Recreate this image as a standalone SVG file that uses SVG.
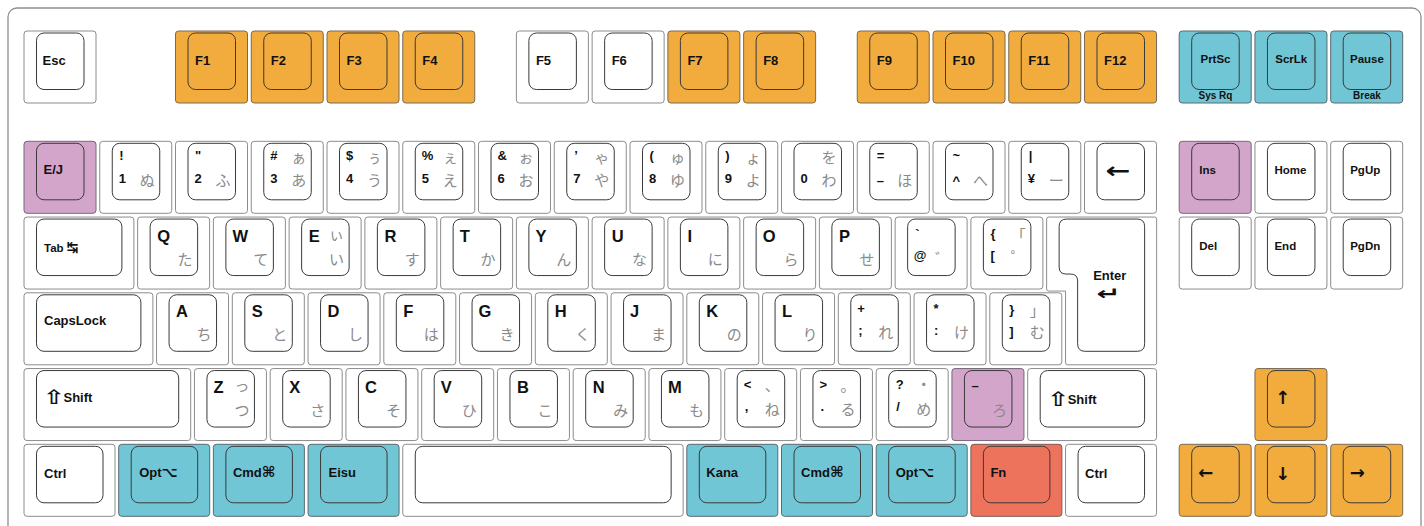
<svg xmlns="http://www.w3.org/2000/svg" width="1424" height="526" viewBox="0 0 1424 526">
<style>
.frame{fill:#fff;stroke:#8f8f8f;stroke-width:1.3}
.ko{stroke:#8c8c8c;stroke-width:1}
.w{fill:#fff}
.o{fill:#f2ac3e;stroke:#7a6a50}
.t{fill:#71c6d6;stroke:#5a6a70}
.p{fill:#d3a5cb;stroke:#76687a}
.r{fill:#ee735d;stroke:#7a5a55}
.ki{fill:none;stroke:#3a3a3a;stroke-width:1}
text{font-family:"Liberation Sans",Arial,sans-serif;font-weight:bold;fill:#111}
.lg{font-size:13px}
.lt{font-size:16.5px}
.sm{font-size:11.5px}
.xs{font-size:10px}
.mid{text-anchor:middle}
.kn{font-family:"Noto Sans CJK JP",sans-serif;font-weight:normal;font-size:15px;fill:#8a8a8a;text-anchor:end;dominant-baseline:central}
.gl{font-family:"DejaVu Sans",sans-serif;font-weight:bold}
.ar{font-family:"DejaVu Sans",sans-serif;font-weight:bold;font-size:18px;dominant-baseline:central}
</style>
<rect class="frame" x="8" y="8" width="1413" height="540" rx="9"/>
<g id="connectors"/>

<!-- Function row -->
<g id="key-esc" transform="translate(24 31)"><rect class="ko w" width="72" height="72" rx="3"/><rect class="ki" x="12.5" y="2" width="47.5" height="56.5" rx="7.5"/><text class="lg" x="18.5" y="33.5">Esc</text></g>
<g id="key-f1" transform="translate(175.5 31)"><rect class="ko o" width="72" height="72" rx="3"/><rect class="ki" x="12.5" y="2" width="47.5" height="56.5" rx="7.5"/><text class="lg" x="19.5" y="33.5">F1</text></g>
<g id="key-f2" transform="translate(251.25 31)"><rect class="ko o" width="72" height="72" rx="3"/><rect class="ki" x="12.5" y="2" width="47.5" height="56.5" rx="7.5"/><text class="lg" x="19.5" y="33.5">F2</text></g>
<g id="key-f3" transform="translate(327 31)"><rect class="ko o" width="72" height="72" rx="3"/><rect class="ki" x="12.5" y="2" width="47.5" height="56.5" rx="7.5"/><text class="lg" x="19.5" y="33.5">F3</text></g>
<g id="key-f4" transform="translate(402.75 31)"><rect class="ko o" width="72" height="72" rx="3"/><rect class="ki" x="12.5" y="2" width="47.5" height="56.5" rx="7.5"/><text class="lg" x="19.5" y="33.5">F4</text></g>
<g id="key-f5" transform="translate(516.38 31)"><rect class="ko w" width="72" height="72" rx="3"/><rect class="ki" x="12.5" y="2" width="47.5" height="56.5" rx="7.5"/><text class="lg" x="19.5" y="33.5">F5</text></g>
<g id="key-f6" transform="translate(592.13 31)"><rect class="ko w" width="72" height="72" rx="3"/><rect class="ki" x="12.5" y="2" width="47.5" height="56.5" rx="7.5"/><text class="lg" x="19.5" y="33.5">F6</text></g>
<g id="key-f7" transform="translate(667.88 31)"><rect class="ko o" width="72" height="72" rx="3"/><rect class="ki" x="12.5" y="2" width="47.5" height="56.5" rx="7.5"/><text class="lg" x="19.5" y="33.5">F7</text></g>
<g id="key-f8" transform="translate(743.63 31)"><rect class="ko o" width="72" height="72" rx="3"/><rect class="ki" x="12.5" y="2" width="47.5" height="56.5" rx="7.5"/><text class="lg" x="19.5" y="33.5">F8</text></g>
<g id="key-f9" transform="translate(857.25 31)"><rect class="ko o" width="72" height="72" rx="3"/><rect class="ki" x="12.5" y="2" width="47.5" height="56.5" rx="7.5"/><text class="lg" x="19.5" y="33.5">F9</text></g>
<g id="key-f10" transform="translate(933 31)"><rect class="ko o" width="72" height="72" rx="3"/><rect class="ki" x="12.5" y="2" width="47.5" height="56.5" rx="7.5"/><text class="lg" x="19.5" y="33.5">F10</text></g>
<g id="key-f11" transform="translate(1008.75 31)"><rect class="ko o" width="72" height="72" rx="3"/><rect class="ki" x="12.5" y="2" width="47.5" height="56.5" rx="7.5"/><text class="lg" x="19.5" y="33.5">F11</text></g>
<g id="key-f12" transform="translate(1084.5 31)"><rect class="ko o" width="72" height="72" rx="3"/><rect class="ki" x="12.5" y="2" width="47.5" height="56.5" rx="7.5"/><text class="lg" x="19.5" y="33.5">F12</text></g>
<g id="key-prtsc" transform="translate(1179.19 31)"><rect class="ko t" width="72" height="72" rx="3"/><rect class="ki" x="12.5" y="2" width="47.5" height="56.5" rx="7.5"/><text class="sm mid" x="36.3" y="32">PrtSc</text><text class="xs mid" x="36.3" y="68">Sys Rq</text></g>
<g id="key-scrlk" transform="translate(1254.94 31)"><rect class="ko t" width="72" height="72" rx="3"/><rect class="ki" x="12.5" y="2" width="47.5" height="56.5" rx="7.5"/><text class="sm mid" x="36.3" y="32">ScrLk</text></g>
<g id="key-pause" transform="translate(1330.69 31)"><rect class="ko t" width="72" height="72" rx="3"/><rect class="ki" x="12.5" y="2" width="47.5" height="56.5" rx="7.5"/><text class="sm mid" x="36.3" y="32">Pause</text><text class="xs mid" x="36.3" y="68">Break</text></g>

<!-- Number row -->
<g id="key-ej" transform="translate(24 141.3)"><rect class="ko p" width="72" height="72" rx="3"/><rect class="ki" x="12.5" y="2" width="47.5" height="56.5" rx="7.5"/><text class="lg" x="19.5" y="32.5">E/J</text></g>
<g id="key-1" transform="translate(99.75 141.3)"><rect class="ko w" width="72" height="72" rx="3"/><rect class="ki" x="12.5" y="2" width="47.5" height="56.5" rx="7.5"/><text class="lg" x="19.5" y="19">!</text><text class="lg" x="19" y="42">1</text><text class="kn" x="55" y="38.5">ぬ</text></g>
<g id="key-2" transform="translate(175.5 141.3)"><rect class="ko w" width="72" height="72" rx="3"/><rect class="ki" x="12.5" y="2" width="47.5" height="56.5" rx="7.5"/><text class="lg" x="19.5" y="19">"</text><text class="lg" x="19" y="42">2</text><text class="kn" x="55" y="38.5">ふ</text></g>
<g id="key-3" transform="translate(251.25 141.3)"><rect class="ko w" width="72" height="72" rx="3"/><rect class="ki" x="12.5" y="2" width="47.5" height="56.5" rx="7.5"/><text class="lg" x="19" y="19">#</text><text class="lg" x="19" y="42">3</text><text class="kn" x="55" y="15">ぁ</text><text class="kn" x="55" y="38.5">あ</text></g>
<g id="key-4" transform="translate(327 141.3)"><rect class="ko w" width="72" height="72" rx="3"/><rect class="ki" x="12.5" y="2" width="47.5" height="56.5" rx="7.5"/><text class="lg" x="19" y="19">$</text><text class="lg" x="19" y="42">4</text><text class="kn" x="55" y="15">ぅ</text><text class="kn" x="55" y="38.5">う</text></g>
<g id="key-5" transform="translate(402.75 141.3)"><rect class="ko w" width="72" height="72" rx="3"/><rect class="ki" x="12.5" y="2" width="47.5" height="56.5" rx="7.5"/><text class="lg" x="19" y="19">%</text><text class="lg" x="19" y="42">5</text><text class="kn" x="55" y="15">ぇ</text><text class="kn" x="55" y="38.5">え</text></g>
<g id="key-6" transform="translate(478.5 141.3)"><rect class="ko w" width="72" height="72" rx="3"/><rect class="ki" x="12.5" y="2" width="47.5" height="56.5" rx="7.5"/><text class="lg" x="19" y="19">&amp;</text><text class="lg" x="19" y="42">6</text><text class="kn" x="55" y="15">ぉ</text><text class="kn" x="55" y="38.5">お</text></g>
<g id="key-7" transform="translate(554.25 141.3)"><rect class="ko w" width="72" height="72" rx="3"/><rect class="ki" x="12.5" y="2" width="47.5" height="56.5" rx="7.5"/><text class="lg" x="20" y="19">’</text><text class="lg" x="19" y="42">7</text><text class="kn" x="55" y="15">ゃ</text><text class="kn" x="55" y="38.5">や</text></g>
<g id="key-8" transform="translate(630 141.3)"><rect class="ko w" width="72" height="72" rx="3"/><rect class="ki" x="12.5" y="2" width="47.5" height="56.5" rx="7.5"/><text class="lg" x="19.5" y="19">(</text><text class="lg" x="19" y="42">8</text><text class="kn" x="55" y="15">ゅ</text><text class="kn" x="55" y="38.5">ゆ</text></g>
<g id="key-9" transform="translate(705.75 141.3)"><rect class="ko w" width="72" height="72" rx="3"/><rect class="ki" x="12.5" y="2" width="47.5" height="56.5" rx="7.5"/><text class="lg" x="19.5" y="19">)</text><text class="lg" x="19" y="42">9</text><text class="kn" x="55" y="15">ょ</text><text class="kn" x="55" y="38.5">よ</text></g>
<g id="key-0" transform="translate(781.5 141.3)"><rect class="ko w" width="72" height="72" rx="3"/><rect class="ki" x="12.5" y="2" width="47.5" height="56.5" rx="7.5"/><text class="lg" x="19" y="42">0</text><text class="kn" x="55" y="15">を</text><text class="kn" x="55" y="38.5">わ</text></g>
<g id="key-minus" transform="translate(857.25 141.3)"><rect class="ko w" width="72" height="72" rx="3"/><rect class="ki" x="12.5" y="2" width="47.5" height="56.5" rx="7.5"/><text class="lg" x="19.5" y="19">=</text><text class="lg" x="19.5" y="44">–</text><text class="kn" x="55" y="38.5">ほ</text></g>
<g id="key-caret" transform="translate(933 141.3)"><rect class="ko w" width="72" height="72" rx="3"/><rect class="ki" x="12.5" y="2" width="47.5" height="56.5" rx="7.5"/><text class="lg" x="19.5" y="19">~</text><text class="lg" x="19.5" y="44">^</text><text class="kn" x="55" y="38.5">へ</text></g>
<g id="key-yen" transform="translate(1008.75 141.3)"><rect class="ko w" width="72" height="72" rx="3"/><rect class="ki" x="12.5" y="2" width="47.5" height="56.5" rx="7.5"/><text class="lg" x="20" y="19">|</text><text class="lg" x="19" y="42">¥</text><text class="kn" x="55" y="38.5">ー</text></g>
<g id="key-backspace" transform="translate(1084.5 141.3)"><rect class="ko w" width="72" height="72" rx="3"/><rect class="ki" x="12.5" y="2" width="47.5" height="56.5" rx="7.5"/><text class="gl mid" x="33.5" y="29.5" font-size="22" dominant-baseline="central" transform="translate(33.5 0) scale(1.35 1) translate(-33.5 0)">←</text></g>
<g id="key-ins" transform="translate(1179.19 141.3)"><rect class="ko p" width="72" height="72" rx="3"/><rect class="ki" x="12.5" y="2" width="47.5" height="56.5" rx="7.5"/><text class="sm" x="20" y="33">Ins</text></g>
<g id="key-home" transform="translate(1254.94 141.3)"><rect class="ko w" width="72" height="72" rx="3"/><rect class="ki" x="12.5" y="2" width="47.5" height="56.5" rx="7.5"/><text class="sm" x="19.5" y="33">Home</text></g>
<g id="key-pgup" transform="translate(1330.69 141.3)"><rect class="ko w" width="72" height="72" rx="3"/><rect class="ki" x="12.5" y="2" width="47.5" height="56.5" rx="7.5"/><text class="sm" x="19.5" y="33">PgUp</text></g>

<!-- Tab row -->
<g id="key-tab" transform="translate(24 217.05)"><rect class="ko w" width="109.9" height="72" rx="3"/><rect class="ki" x="12.5" y="2" width="85.4" height="56.5" rx="7.5"/><text class="sm" x="20" y="34.5">Tab</text><text class="gl" x="42.5" y="29.5" font-size="14" dominant-baseline="central">↹</text></g>
<g id="key-q" transform="translate(137.63 217.05)"><rect class="ko w" width="72" height="72" rx="3"/><rect class="ki" x="12.5" y="2" width="47.5" height="56.5" rx="7.5"/><text class="lt" x="19.5" y="24.7">Q</text><text class="kn" x="55" y="41">た</text></g>
<g id="key-w" transform="translate(213.38 217.05)"><rect class="ko w" width="72" height="72" rx="3"/><rect class="ki" x="12.5" y="2" width="47.5" height="56.5" rx="7.5"/><text class="lt" x="19" y="24.7">W</text><text class="kn" x="55" y="41">て</text></g>
<g id="key-e" transform="translate(289.13 217.05)"><rect class="ko w" width="72" height="72" rx="3"/><rect class="ki" x="12.5" y="2" width="47.5" height="56.5" rx="7.5"/><text class="lt" x="19.5" y="24.7">E</text><text class="kn" x="55" y="16">ぃ</text><text class="kn" x="55" y="41">い</text></g>
<g id="key-r" transform="translate(364.88 217.05)"><rect class="ko w" width="72" height="72" rx="3"/><rect class="ki" x="12.5" y="2" width="47.5" height="56.5" rx="7.5"/><text class="lt" x="19.5" y="24.7">R</text><text class="kn" x="55" y="41">す</text></g>
<g id="key-t" transform="translate(440.63 217.05)"><rect class="ko w" width="72" height="72" rx="3"/><rect class="ki" x="12.5" y="2" width="47.5" height="56.5" rx="7.5"/><text class="lt" x="19" y="24.7">T</text><text class="kn" x="55" y="41">か</text></g>
<g id="key-y" transform="translate(516.38 217.05)"><rect class="ko w" width="72" height="72" rx="3"/><rect class="ki" x="12.5" y="2" width="47.5" height="56.5" rx="7.5"/><text class="lt" x="19" y="24.7">Y</text><text class="kn" x="55" y="41">ん</text></g>
<g id="key-u" transform="translate(592.13 217.05)"><rect class="ko w" width="72" height="72" rx="3"/><rect class="ki" x="12.5" y="2" width="47.5" height="56.5" rx="7.5"/><text class="lt" x="19.5" y="24.7">U</text><text class="kn" x="55" y="41">な</text></g>
<g id="key-i" transform="translate(667.88 217.05)"><rect class="ko w" width="72" height="72" rx="3"/><rect class="ki" x="12.5" y="2" width="47.5" height="56.5" rx="7.5"/><text class="lt" x="19.5" y="24.7">I</text><text class="kn" x="55" y="41">に</text></g>
<g id="key-o" transform="translate(743.63 217.05)"><rect class="ko w" width="72" height="72" rx="3"/><rect class="ki" x="12.5" y="2" width="47.5" height="56.5" rx="7.5"/><text class="lt" x="19" y="24.7">O</text><text class="kn" x="55" y="41">ら</text></g>
<g id="key-p" transform="translate(819.38 217.05)"><rect class="ko w" width="72" height="72" rx="3"/><rect class="ki" x="12.5" y="2" width="47.5" height="56.5" rx="7.5"/><text class="lt" x="19.5" y="24.7">P</text><text class="kn" x="55" y="41">せ</text></g>
<g id="key-at" transform="translate(895.13 217.05)"><rect class="ko w" width="72" height="72" rx="3"/><rect class="ki" x="12.5" y="2" width="47.5" height="56.5" rx="7.5"/><text class="lg" x="20" y="22">`</text><text class="lg" x="18.5" y="43">@</text><text class="kn" x="55" y="40">゛</text></g>
<g id="key-lbracket" transform="translate(970.88 217.05)"><rect class="ko w" width="72" height="72" rx="3"/><rect class="ki" x="12.5" y="2" width="47.5" height="56.5" rx="7.5"/><text class="lg" x="19.5" y="21">{</text><text class="lg" x="19.5" y="43">[</text><text class="kn" x="55" y="17">「</text><text class="kn" x="55" y="39">゜</text></g>
<g id="key-enter" transform="translate(1046.63 217.05)"><path class="ko w" d="M2,0 H108 Q110,0 110,2 V145.75 Q110,147.75 108,147.75 H20.93 Q18.93,147.75 18.93,145.75 V74 H2 Q0,74 0,72 V2 Q0,0 2,0 Z"/><path class="ki" d="M20,2 H90.5 Q98,2 98,9.5 V126.75 Q98,134.25 90.5,134.25 H38.5 Q31,134.25 31,126.75 V64 Q31,57 24,57 H19.5 Q12.5,57 12.5,50 V9.5 Q12.5,2 20,2 Z"/><text class="lg" x="46.5" y="63">Enter</text><text class="gl mid" x="62" y="77" font-size="18" dominant-baseline="central" transform="translate(62 0) scale(1.6 1) translate(-62 0)">↵</text></g>
<g id="key-del" transform="translate(1179.19 217.05)"><rect class="ko w" width="72" height="72" rx="3"/><rect class="ki" x="12.5" y="2" width="47.5" height="56.5" rx="7.5"/><text class="sm" x="20" y="33">Del</text></g>
<g id="key-end" transform="translate(1254.94 217.05)"><rect class="ko w" width="72" height="72" rx="3"/><rect class="ki" x="12.5" y="2" width="47.5" height="56.5" rx="7.5"/><text class="sm" x="19.5" y="33">End</text></g>
<g id="key-pgdn" transform="translate(1330.69 217.05)"><rect class="ko w" width="72" height="72" rx="3"/><rect class="ki" x="12.5" y="2" width="47.5" height="56.5" rx="7.5"/><text class="sm" x="19.5" y="33">PgDn</text></g>

<!-- Caps row -->
<g id="key-capslock" transform="translate(24 292.8)"><rect class="ko w" width="128.9" height="72" rx="3"/><rect class="ki" x="12.5" y="2" width="104.4" height="56.5" rx="7.5"/><text class="lg" x="20" y="32.5">CapsLock</text></g>
<g id="key-a" transform="translate(156.56 292.8)"><rect class="ko w" width="72" height="72" rx="3"/><rect class="ki" x="12.5" y="2" width="47.5" height="56.5" rx="7.5"/><text class="lt" x="19.5" y="24">A</text><text class="kn" x="55" y="40.5">ち</text></g>
<g id="key-s" transform="translate(232.31 292.8)"><rect class="ko w" width="72" height="72" rx="3"/><rect class="ki" x="12.5" y="2" width="47.5" height="56.5" rx="7.5"/><text class="lt" x="19.5" y="24">S</text><text class="kn" x="55" y="40.5">と</text></g>
<g id="key-d" transform="translate(308.06 292.8)"><rect class="ko w" width="72" height="72" rx="3"/><rect class="ki" x="12.5" y="2" width="47.5" height="56.5" rx="7.5"/><text class="lt" x="19.5" y="24">D</text><text class="kn" x="55" y="40.5">し</text></g>
<g id="key-f" transform="translate(383.81 292.8)"><rect class="ko w" width="72" height="72" rx="3"/><rect class="ki" x="12.5" y="2" width="47.5" height="56.5" rx="7.5"/><text class="lt" x="19.5" y="24">F</text><text class="kn" x="55" y="40.5">は</text></g>
<g id="key-g" transform="translate(459.56 292.8)"><rect class="ko w" width="72" height="72" rx="3"/><rect class="ki" x="12.5" y="2" width="47.5" height="56.5" rx="7.5"/><text class="lt" x="19" y="24">G</text><text class="kn" x="55" y="40.5">き</text></g>
<g id="key-h" transform="translate(535.31 292.8)"><rect class="ko w" width="72" height="72" rx="3"/><rect class="ki" x="12.5" y="2" width="47.5" height="56.5" rx="7.5"/><text class="lt" x="19.5" y="24">H</text><text class="kn" x="55" y="40.5">く</text></g>
<g id="key-j" transform="translate(611.06 292.8)"><rect class="ko w" width="72" height="72" rx="3"/><rect class="ki" x="12.5" y="2" width="47.5" height="56.5" rx="7.5"/><text class="lt" x="19" y="24">J</text><text class="kn" x="55" y="40.5">ま</text></g>
<g id="key-k" transform="translate(686.81 292.8)"><rect class="ko w" width="72" height="72" rx="3"/><rect class="ki" x="12.5" y="2" width="47.5" height="56.5" rx="7.5"/><text class="lt" x="19.5" y="24">K</text><text class="kn" x="55" y="40.5">の</text></g>
<g id="key-l" transform="translate(762.56 292.8)"><rect class="ko w" width="72" height="72" rx="3"/><rect class="ki" x="12.5" y="2" width="47.5" height="56.5" rx="7.5"/><text class="lt" x="19.5" y="24">L</text><text class="kn" x="55" y="40.5">り</text></g>
<g id="key-semicolon" transform="translate(838.31 292.8)"><rect class="ko w" width="72" height="72" rx="3"/><rect class="ki" x="12.5" y="2" width="47.5" height="56.5" rx="7.5"/><text class="lg" x="19" y="20">+</text><text class="lg" x="20" y="42">;</text><text class="kn" x="55" y="39">れ</text></g>
<g id="key-colon" transform="translate(914.06 292.8)"><rect class="ko w" width="72" height="72" rx="3"/><rect class="ki" x="12.5" y="2" width="47.5" height="56.5" rx="7.5"/><text class="lg" x="19.5" y="20">*</text><text class="lg" x="20" y="42">:</text><text class="kn" x="55" y="39">け</text></g>
<g id="key-rbracket" transform="translate(989.81 292.8)"><rect class="ko w" width="72" height="72" rx="3"/><rect class="ki" x="12.5" y="2" width="47.5" height="56.5" rx="7.5"/><text class="lg" x="19.5" y="21">}</text><text class="lg" x="19.5" y="43">]</text><text class="kn" x="55" y="17">」</text><text class="kn" x="55" y="39">む</text></g>

<!-- Shift row -->
<g id="key-lshift" transform="translate(24 368.55)"><rect class="ko w" width="166.7" height="72" rx="3"/><rect class="ki" x="12.5" y="2" width="142.2" height="56.5" rx="7.5"/><text class="gl" x="19" y="28.5" font-size="20" dominant-baseline="central" transform="translate(19 0) scale(1.3 1) translate(-19 0)">⇧</text><text class="lg" x="39.5" y="33.5">Shift</text></g>
<g id="key-z" transform="translate(194.44 368.55)"><rect class="ko w" width="72" height="72" rx="3"/><rect class="ki" x="12.5" y="2" width="47.5" height="56.5" rx="7.5"/><text class="lt" x="19" y="24.2">Z</text><text class="kn" x="55" y="16">っ</text><text class="kn" x="55" y="40.5">つ</text></g>
<g id="key-x" transform="translate(270.19 368.55)"><rect class="ko w" width="72" height="72" rx="3"/><rect class="ki" x="12.5" y="2" width="47.5" height="56.5" rx="7.5"/><text class="lt" x="19" y="24.2">X</text><text class="kn" x="55" y="40.5">さ</text></g>
<g id="key-c" transform="translate(345.94 368.55)"><rect class="ko w" width="72" height="72" rx="3"/><rect class="ki" x="12.5" y="2" width="47.5" height="56.5" rx="7.5"/><text class="lt" x="19" y="24.2">C</text><text class="kn" x="55" y="40.5">そ</text></g>
<g id="key-v" transform="translate(421.69 368.55)"><rect class="ko w" width="72" height="72" rx="3"/><rect class="ki" x="12.5" y="2" width="47.5" height="56.5" rx="7.5"/><text class="lt" x="19" y="24.2">V</text><text class="kn" x="55" y="40.5">ひ</text></g>
<g id="key-b" transform="translate(497.44 368.55)"><rect class="ko w" width="72" height="72" rx="3"/><rect class="ki" x="12.5" y="2" width="47.5" height="56.5" rx="7.5"/><text class="lt" x="19.5" y="24.2">B</text><text class="kn" x="55" y="40.5">こ</text></g>
<g id="key-n" transform="translate(573.19 368.55)"><rect class="ko w" width="72" height="72" rx="3"/><rect class="ki" x="12.5" y="2" width="47.5" height="56.5" rx="7.5"/><text class="lt" x="19.5" y="24.2">N</text><text class="kn" x="55" y="40.5">み</text></g>
<g id="key-m" transform="translate(648.94 368.55)"><rect class="ko w" width="72" height="72" rx="3"/><rect class="ki" x="12.5" y="2" width="47.5" height="56.5" rx="7.5"/><text class="lt" x="19" y="24.2">M</text><text class="kn" x="55" y="40.5">も</text></g>
<g id="key-comma" transform="translate(724.69 368.55)"><rect class="ko w" width="72" height="72" rx="3"/><rect class="ki" x="12.5" y="2" width="47.5" height="56.5" rx="7.5"/><text class="lg" x="19" y="20">&lt;</text><text class="lg" x="20" y="42">,</text><text class="kn" x="55" y="16">、</text><text class="kn" x="55" y="40">ね</text></g>
<g id="key-period" transform="translate(800.44 368.55)"><rect class="ko w" width="72" height="72" rx="3"/><rect class="ki" x="12.5" y="2" width="47.5" height="56.5" rx="7.5"/><text class="lg" x="19" y="20">&gt;</text><text class="lg" x="20" y="42">.</text><text class="kn" x="55" y="16">。</text><text class="kn" x="55" y="40">る</text></g>
<g id="key-slash" transform="translate(876.19 368.55)"><rect class="ko w" width="72" height="72" rx="3"/><rect class="ki" x="12.5" y="2" width="47.5" height="56.5" rx="7.5"/><text class="lg" x="19.5" y="20">?</text><text class="lg" x="20" y="42">/</text><text class="kn" x="55" y="15">・</text><text class="kn" x="55" y="40">め</text></g>
<g id="key-ro" transform="translate(951.94 368.55)"><rect class="ko p" width="72" height="72" rx="3"/><rect class="ki" x="12.5" y="2" width="47.5" height="56.5" rx="7.5"/><text class="lg" x="19.5" y="21">–</text><text class="kn" x="55" y="40.5">ろ</text></g>
<g id="key-rshift" transform="translate(1027.69 368.55)"><rect class="ko w" width="128.9" height="72" rx="3"/><rect class="ki" x="12.5" y="2" width="104.4" height="56.5" rx="7.5"/><text class="gl" x="19.5" y="30.5" font-size="20" dominant-baseline="central" transform="translate(19.5 0) scale(1.3 1) translate(-19.5 0)">⇧</text><text class="lg" x="40" y="35.5">Shift</text></g>
<g id="key-up" transform="translate(1254.94 368.55)"><rect class="ko o" width="72" height="72" rx="3"/><rect class="ki" x="12.5" y="2" width="47.5" height="56.5" rx="7.5"/><text class="ar" x="20" y="29">↑</text></g>

<!-- Bottom row -->
<g id="key-lctrl" transform="translate(24 444.3)"><rect class="ko w" width="91" height="72" rx="3"/><rect class="ki" x="12.5" y="2" width="66.5" height="56.5" rx="7.5"/><text class="lg" x="20" y="33.5">Ctrl</text></g>
<g id="key-lopt" transform="translate(118.69 444.3)"><rect class="ko t" width="91" height="72" rx="3"/><rect class="ki" x="12.5" y="2" width="66.5" height="56.5" rx="7.5"/><text class="lg" x="20.5" y="33">Opt<tspan class="gl" font-size="14">⌥</tspan></text></g>
<g id="key-lcmd" transform="translate(213.38 444.3)"><rect class="ko t" width="91" height="72" rx="3"/><rect class="ki" x="12.5" y="2" width="66.5" height="56.5" rx="7.5"/><text class="lg" x="19.5" y="33">Cmd<tspan class="gl" font-size="15">⌘</tspan></text></g>
<g id="key-eisu" transform="translate(308.06 444.3)"><rect class="ko t" width="91" height="72" rx="3"/><rect class="ki" x="12.5" y="2" width="66.5" height="56.5" rx="7.5"/><text class="lg" x="20.5" y="33">Eisu</text></g>
<g id="key-space" transform="translate(402.75 444.3)"><rect class="ko w" width="280.4" height="72" rx="3"/><rect class="ki" x="12.5" y="2" width="255.9" height="56.5" rx="7.5"/></g>
<g id="key-kana" transform="translate(686.81 444.3)"><rect class="ko t" width="91" height="72" rx="3"/><rect class="ki" x="12.5" y="2" width="66.5" height="56.5" rx="7.5"/><text class="lg" x="19.5" y="33">Kana</text></g>
<g id="key-rcmd" transform="translate(781.5 444.3)"><rect class="ko t" width="91" height="72" rx="3"/><rect class="ki" x="12.5" y="2" width="66.5" height="56.5" rx="7.5"/><text class="lg" x="19.5" y="33">Cmd<tspan class="gl" font-size="15">⌘</tspan></text></g>
<g id="key-ropt" transform="translate(876.19 444.3)"><rect class="ko t" width="91" height="72" rx="3"/><rect class="ki" x="12.5" y="2" width="66.5" height="56.5" rx="7.5"/><text class="lg" x="19.5" y="33">Opt<tspan class="gl" font-size="14">⌥</tspan></text></g>
<g id="key-fn" transform="translate(970.88 444.3)"><rect class="ko r" width="91" height="72" rx="3"/><rect class="ki" x="12.5" y="2" width="66.5" height="56.5" rx="7.5"/><text class="lg" x="19.5" y="33">Fn</text></g>
<g id="key-rctrl" transform="translate(1065.56 444.3)"><rect class="ko w" width="91" height="72" rx="3"/><rect class="ki" x="12.5" y="2" width="66.5" height="56.5" rx="7.5"/><text class="lg" x="19.5" y="33.5">Ctrl</text></g>
<g id="key-left" transform="translate(1179.19 444.3)"><rect class="ko o" width="72" height="72" rx="3"/><rect class="ki" x="12.5" y="2" width="47.5" height="56.5" rx="7.5"/><text class="ar" x="19" y="28.5">←</text></g>
<g id="key-down" transform="translate(1254.94 444.3)"><rect class="ko o" width="72" height="72" rx="3"/><rect class="ki" x="12.5" y="2" width="47.5" height="56.5" rx="7.5"/><text class="ar" x="20" y="29">↓</text></g>
<g id="key-right" transform="translate(1330.69 444.3)"><rect class="ko o" width="72" height="72" rx="3"/><rect class="ki" x="12.5" y="2" width="47.5" height="56.5" rx="7.5"/><text class="ar" x="19" y="28.5">→</text></g>
</svg>
